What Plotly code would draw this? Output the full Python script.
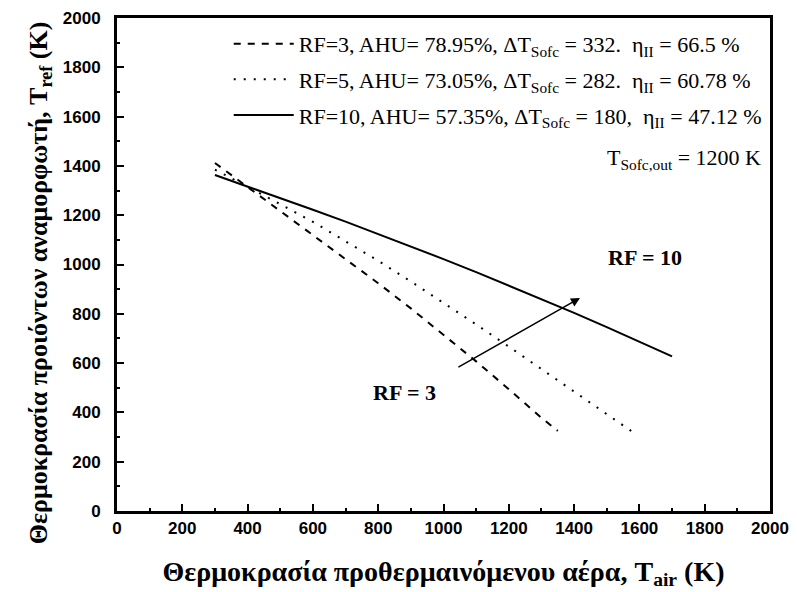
import plotly.graph_objects as go

# values
t_air_rf3 = [300, 400, 500, 600, 700, 800, 900, 1000, 1100, 1200, 1300, 1350]
t_ref_rf3 = [1412, 1315, 1218, 1121, 1023, 924, 822, 716, 607, 494, 378, 325]

t_air_rf5 = [300, 400, 500, 600, 700, 800, 900, 1000, 1100, 1200, 1300, 1400, 1500, 1580]
t_ref_rf5 = [1385, 1316, 1245, 1173, 1095, 1015, 931, 845, 757, 667, 576, 484, 392, 320]

t_air_rf10 = [300, 400, 500, 600, 700, 800, 900, 1000, 1100, 1200, 1300, 1400, 1500, 1600, 1700]
t_ref_rf10 = [1363, 1317, 1270, 1222, 1174, 1124, 1073, 1022, 969, 915, 860, 804, 746, 687, 627]

names = [
    'RF=3, AHU= 78.95%, ΔT<sub>Sofc</sub> = 332.  η<sub>II</sub> = 66.5 %',
    'RF=5, AHU= 73.05%, ΔT<sub>Sofc</sub> = 282.  η<sub>II</sub> = 60.78 %',
    'RF=10, AHU= 57.35%, ΔT<sub>Sofc</sub> = 180,  η<sub>II</sub> = 47.12 %',
]

SERIF = 'Liberation Serif'
SANS = 'Liberation Sans'

fig = go.Figure(
    data=[
        go.Scatter(x=t_air_rf3, y=t_ref_rf3, name=names[0], mode='lines', legendgroup='a',
                   line=dict(color='black', width=2, dash='7px,7px')),
        go.Scatter(x=t_air_rf5, y=t_ref_rf5, name=names[1], mode='lines', legendgroup='b',
                   line=dict(color='black', width=2, dash='2px,8px')),
        go.Scatter(x=t_air_rf10, y=t_ref_rf10, name=names[2], mode='lines', legendgroup='c',
                   line=dict(color='black', width=2)),
    ])

axis_common = dict(
    range=[0, 2000],
    tickvals=list(range(0, 2001, 200)),
    ticks='inside', ticklen=7, tickwidth=2, tickcolor='black',
    minor=dict(ticks='inside', ticklen=3, tickwidth=2, dtick=100, tickcolor='black'),
    showline=True, linewidth=3, linecolor='black', mirror=True,
    showgrid=False, zeroline=False, automargin=False,
    tickfont=dict(family=SANS, size=17, color='black', weight='bold'),
)

# the page body has an 8px margin, so the margins are shifted to compensate
fig.update_layout(
    width=797, height=592,
    margin=dict(l=109, r=35, t=10, b=89),
    plot_bgcolor='white', paper_bgcolor='white',
    xaxis=dict(axis_common, title=dict(
        text='Θερμοκρασία προθερμαινόμενου αέρα, T<sub>air</sub> (K)',
        font=dict(family=SERIF, size=28, color='black', weight='bold'), standoff=24)),
    yaxis=dict(axis_common, ticklabelstandoff=10),
    legend=dict(x=0.995, y=0.99, xanchor='right', yanchor='top',
                bgcolor='rgba(0,0,0,0)', font=dict(family=SERIF, size=22, color='black'),
                tracegroupgap=4, itemwidth=60),
    showlegend=True,
    annotations=[
        dict(x=-0.1455, y=0.464, xref='paper', yref='paper', textangle=-90,
             text='Θερμοκρασία προιόντων αναμορφωτή, T<sub>ref</sub> (K)', showarrow=False,
             font=dict(family=SERIF, size=26, color='black', weight='bold')),
        dict(x=0.99, y=0.715, xref='paper', yref='paper', xanchor='right', yanchor='middle',
             text='T<sub>Sofc,out</sub> = 1200 K', showarrow=False,
             font=dict(family=SERIF, size=22, color='black')),
        dict(x=1617, y=1030, text='RF = 10', showarrow=False,
             font=dict(family=SERIF, size=22, color='black', weight='bold')),
        dict(x=882, y=479, text='RF = 3', showarrow=False,
             font=dict(family=SERIF, size=22, color='black', weight='bold')),
        dict(x=1418, y=864, ax=1041, ay=580, axref='x', ayref='y',
             text='', showarrow=True, arrowhead=2, arrowsize=1.2, arrowwidth=1.5,
             arrowcolor='black'),
    ],
)

fig.write_html('out.html')
